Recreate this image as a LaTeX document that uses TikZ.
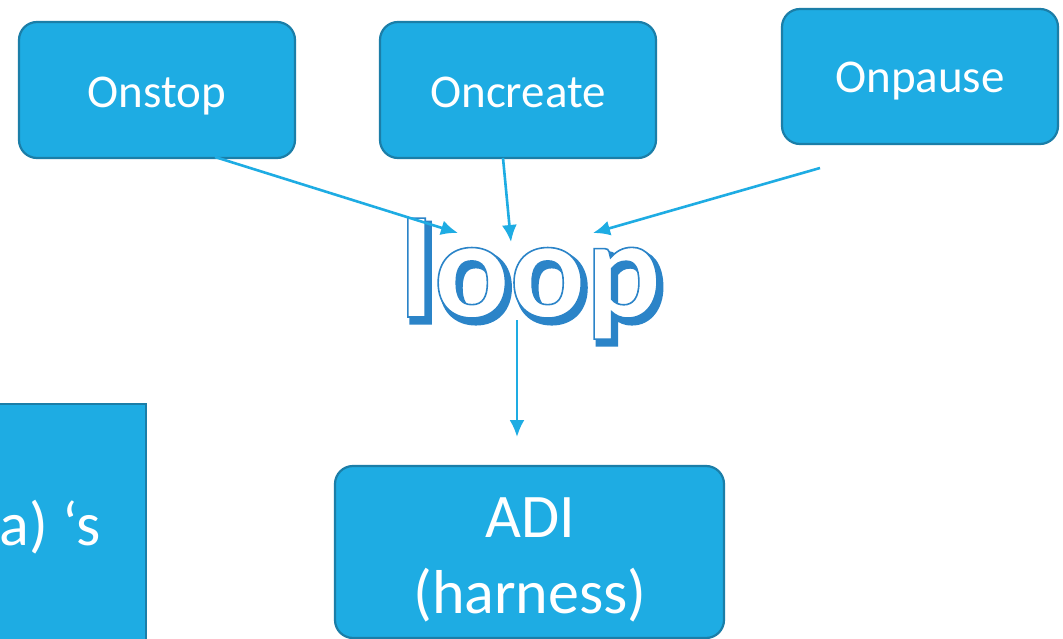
\documentclass[tikz,border=0pt]{standalone}
\usepackage{fontspec}
\setmainfont{Carlito}
\usetikzlibrary{arrows.meta}
\definecolor{boxfill}{HTML}{1EACE3}
\definecolor{boxline}{HTML}{1B7EA8}
\definecolor{arrowc}{HTML}{1EACE3}
\definecolor{loopblue}{HTML}{2B84C8}
% text render mode: fill and stroke the glyphs
\newcommand{\outlinedtext}[2]{%
  \special{pdf:literal direct 2 Tr #1 w 0.169 0.518 0.784 RG}#2\special{pdf:literal direct 0 Tr}}
\tikzset{
  state/.style={draw=boxline, line width=2.2pt, fill=boxfill, rounded corners=18pt},
  label/.style={text=white, inner sep=0pt, align=center, anchor=base},
  flow/.style={draw=arrowc, line width=2.6pt, -{Latex[length=17pt,width=15pt]}},
  loopword/.style={inner sep=0pt, anchor=base west, font=\fontsize{141}{141}\selectfont\bfseries}
}
\begin{document}
\begin{tikzpicture}[x=1pt,y=-1pt]
  \useasboundingbox (0,0) rectangle (1063,639);
  \clip (0,0) rectangle (1063,639);
  \fill[white] (0,0) rectangle (1063,639);

  % lifecycle callbacks
  \draw[state] (19,22) rectangle (295,158);
  \node[label, font=\fontsize{47}{47}\selectfont] (onstop) at (157,108) {Onstop};
  \draw[state] (380,22) rectangle (656,158);
  \node[label, font=\fontsize{47}{47}\selectfont] (oncreate) at (518,108) {Oncreate};
  \draw[state] (782,9) rectangle (1058,144);
  \node[label, font=\fontsize{47}{47}\selectfont] (onpause) at (920,93) {Onpause};

  % left panel, cut by the page edge
  \draw[draw=boxline, line width=2.2pt, fill=boxfill] (-10,404) rectangle (146,660);
  \node[label, anchor=base east, font=\fontsize{62}{62}\selectfont] (java) at (101,545) {a) ‘s};

  % harness box
  \draw[state] (335,466) rectangle (724,638);
  \node[label, font=\fontsize{62}{62}\selectfont] (adi) at (530,537) {ADI};
  \node[label, font=\fontsize{62}{62}\selectfont] (harness) at (530,613) {(harness)};

  % the loop word: shadow, then the outlined white face
  \node[loopword, text=loopblue] (loopshadow) at (403,322) {\outlinedtext{5}{loop}};
  \node[loopword, text=white] (loop) at (399,317) {\outlinedtext{1.6}{loop}};

  % connectors
  \coordinate (s1) at (215,157);
  \coordinate (t1) at (458,233);
  \coordinate (s2) at (503,158);
  \coordinate (t2) at (511,242);
  \coordinate (s3) at (820,168);
  \coordinate (t3) at (593,233);
  \coordinate (s4) at (517,320);
  \coordinate (t4) at (517,437);
  \draw[flow] (s1) -- (t1);
  \draw[flow] (s2) -- (t2);
  \draw[flow] (s3) -- (t3);
  \draw[flow] (s4) -- (t4);
\end{tikzpicture}
\end{document}
